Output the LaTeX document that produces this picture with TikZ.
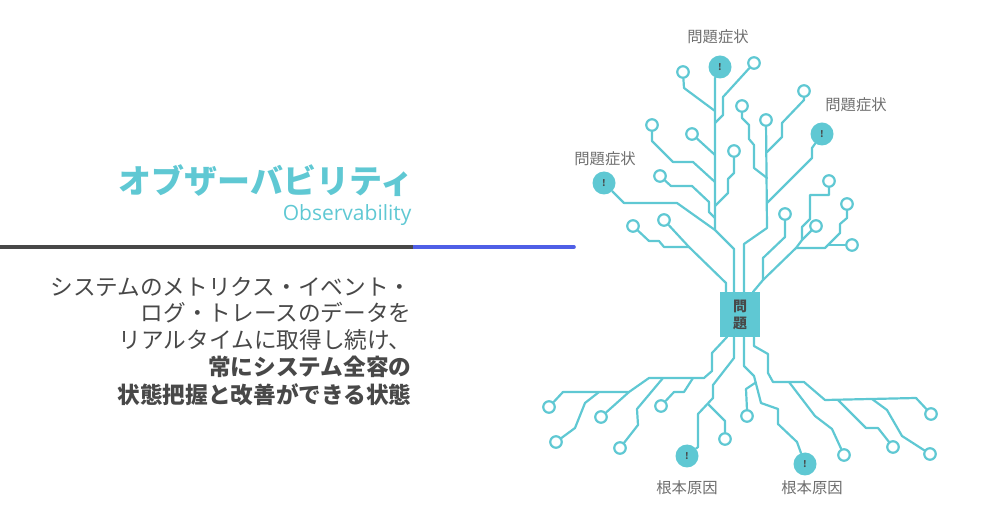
\documentclass[tikz,border=0pt]{standalone}
\usepackage{fontspec}
\setmainfont{Noto Sans CJK JP}
\newfontfamily\latinfont{Open Sans}
\usetikzlibrary{positioning}
\definecolor{Teal}{HTML}{5FC8D3}
\definecolor{InkGray}{HTML}{484848}
\definecolor{LabelGray}{HTML}{6E6E6E}
\definecolor{RuleBlue}{HTML}{4F5FE6}
\tikzset{
 trace/.style={line width=2.2pt,color=Teal},
 pin/.style={circle,draw=Teal,fill=white,line width=2.2pt,inner sep=0pt,minimum size=11.5pt},
 alert/.style={circle,fill=Teal,inner sep=0pt,minimum size=23pt,text=InkGray,font=\fontsize{9}{9}\selectfont\bfseries},
 symptom/.style={text=LabelGray,font=\fontsize{15.3}{16}\selectfont},
 bodyline/.style={text=InkGray,anchor=east,font=\fontsize{22.65}{24}\selectfont},
 bodybold/.style={bodyline,font=\fontsize{22.65}{24}\selectfont\bfseries},
}
\begin{document}
\begin{tikzpicture}[x=1pt,y=-1pt,line cap=round,line join=round]
\useasboundingbox (0,0) rectangle (986,510);
% left column
\draw (417,181) node[anchor=east,text=Teal,font=\fontsize{33}{34}\selectfont\bfseries](title){オブザーバビリティ};
\draw (415,215) node[anchor=east,text=Teal,font=\fontsize{21}{22}\selectfont\latinfont](subtitle){Observability};
\coordinate (r0) at (0,247);
\coordinate (r1) at (413,247);
\coordinate (r2) at (574,247);
\draw [line width=3.6pt,color=RuleBlue] (r1) -- (r2);
\draw [line width=3.6pt,color=InkGray,line cap=butt] (r0) -- (r1);
\draw (415,287) node[bodyline](b1){システムのメトリクス・イベント・};
\draw (415,313) node[bodyline](b2){ログ・トレースのデータを};
\draw (415,340) node[bodyline](b3){リアルタイムに取得し続け、};
\draw (415,367) node[bodybold](b4){常にシステム全容の};
\draw (415,395) node[bodybold](b5){状態把握と改善ができる状態};

% center box
\draw (740,314.5) node[fill=Teal,minimum width=40pt,minimum height=45pt,inner sep=0pt,align=center,text=InkGray,font=\fontsize{14}{17}\selectfont\bfseries](box){問\\題};

% alerts and their labels
\draw (720,67) node[alert](a1){!};
\draw (822,134) node[alert](a2){!};
\draw (604,183) node[alert](a3){!};
\draw (687,456) node[alert](a4){!};
\draw (805,464) node[alert](a5){!};
\draw (718,37) node[symptom](l1){問題症状};
\draw (856,105) node[symptom](l2){問題症状};
\draw (605,159) node[symptom](l3){問題症状};
\draw (687,488) node[symptom](l4){根本原因};
\draw (812,488) node[symptom](l5){根本原因};

% upper pins
\draw (683,72) node[pin](p1){};
\draw (754,63) node[pin](p2){};
\draw (742,106) node[pin](p3){};
\draw (766,120) node[pin](p4){};
\draw (804,91) node[pin](p5){};
\draw (734,151) node[pin](p6){};
\draw (652,125) node[pin](p7){};
\draw (692,134) node[pin](p8){};
\draw (660,176) node[pin](p9){};
\draw (664,220) node[pin](p10){};
\draw (633,226) node[pin](p11){};
\draw (816,226) node[pin](p12){};
\draw (847,204) node[pin](p13){};
\draw (852,245) node[pin](p14){};
\draw (829,181) node[pin](p15){};
\draw (785,214) node[pin](p16){};

% lower pins
\draw (549,407) node[pin](q1){};
\draw (556,442) node[pin](q2){};
\draw (601,417) node[pin](q3){};
\draw (620,448) node[pin](q4){};
\draw (661,406) node[pin](q5){};
\draw (725,439) node[pin](q6){};
\draw (747,416) node[pin](q7){};
\draw (931,414) node[pin](q8){};
\draw (844,455) node[pin](q9){};
\draw (893,447) node[pin](q10){};
\draw (930,454) node[pin](q11){};

% ends on the box
\coordinate (u1) at (726,292);
\coordinate (u2) at (734,292);
\coordinate (u3) at (744,292);
\coordinate (u4) at (753,292);
\coordinate (d1) at (727,337);
\coordinate (d2) at (734,337);
\coordinate (d3) at (744,337);
\coordinate (d4) at (754,337);

% junctions
\coordinate (j1) at (715,111);
\coordinate (j2) at (715,123);
\coordinate (j3) at (715,155);
\coordinate (j4) at (715,182);
\coordinate (j5) at (715,206);
\coordinate (j6) at (715,218);
\coordinate (j7) at (715,230);
\coordinate (k1) at (767,152);
\coordinate (k2) at (767,178);
\coordinate (k3) at (767,203);
\coordinate (m1) at (689,247);
\coordinate (n1) at (763,280);
\coordinate (n2) at (796,248);
\coordinate (n3) at (802,240);
\coordinate (n4) at (825,248);
\coordinate (n5) at (828,245);
\coordinate (s1) at (704,378);
\coordinate (s2) at (693,378);
\coordinate (s3) at (663,378);
\coordinate (s4) at (629,392);
\coordinate (s5) at (599,392);
\coordinate (s6) at (708,404);
\coordinate (s7) at (755,383);
\coordinate (w1) at (789,382);
\coordinate (w2) at (838,400);
\coordinate (w3) at (872,399);

% upper traces
\draw [trace] (a1.-115) -- (j7) -- (734,249) -- (u2);
\draw [trace] (p1) -- (684,88) -- (j1);
\draw [trace] (p2) -- (723,97) -- (723,115) -- (j2);
\draw [trace] (p3) -- (742,118) -- (749,125) -- (749,139) -- (754,145) -- (754,168) -- (k2);
\draw [trace] (p4) -- (767,228) -- (744,244) -- (u3);
\draw [trace] (p5) -- (804,100) -- (782,123) -- (782,137) -- (k1);
\draw [trace] (a2) -- (812,148) -- (812,158) -- (k3);
\draw [trace] (p6) -- (734,173) -- (728,179) -- (728,193) -- (j5);
\draw [trace] (p7) -- (652,141) -- (673,162) -- (693,162) -- (j4);
\draw [trace] (p8) -- (j3);
\draw [trace] (p9) -- (671,186) -- (692,186) -- (709,202) -- (709,212) -- (j6);
\draw [trace] (a3) -- (624,203) -- (677,203) -- (j7);
\draw [trace] (p10) -- (m1) -- (726,283) -- (u1);
\draw [trace] (p11) -- (649,241) -- (659,241) -- (664,247) -- (m1);
\draw [trace] (u4) -- (n1) -- (n2) -- (n3) -- (p12);
\draw [trace] (n2) -- (n4) -- (840,233) -- (840,224) -- (847,218) -- (p13);
\draw [trace] (n5) -- (p14);
\draw [trace] (n3) -- (802,227) -- (810,219) -- (810,195) -- (829,195) -- (p15);
\draw [trace] (p16) -- (785,237) -- (763,258) -- (n1);

% lower traces
\draw [trace] (d1) -- (712,353) -- (712,371) -- (s1) -- (649,378) -- (s4) -- (563,392) -- (q1);
\draw [trace] (s5) -- (585,403) -- (575,428) -- (q2);
\draw [trace] (s4) -- (q3);
\draw [trace] (s3) -- (637,409) -- (638,425) -- (q4);
\draw [trace] (s2) -- (684,392) -- (674,392) -- (q5);
\draw [trace] (d2) -- (734,358) -- (713,385) -- (713,398) -- (698,414) -- (698,447) -- (a4);
\draw [trace] (s6) -- (725,421) -- (q6);
\draw [trace] (d3) -- (744,366) -- (754,376) -- (761,403) -- (778,409) -- (778,424) -- (797,442) -- (a5);
\draw [trace] (s7) -- (746,389) -- (747,410) -- (q7);
\draw [trace] (d4) -- (754,346) -- (768,354) -- (768,373) -- (773,382) -- (804,382) -- (825,400) -- (916,398) -- (q8);
\draw [trace] (w1) -- (815,416) -- (832,429) -- (q9);
\draw [trace] (w2) -- (866,428) -- (878,428) -- (q10);
\draw [trace] (w3) -- (887,410) -- (902,436) -- (q11);
\end{tikzpicture}
\end{document}
